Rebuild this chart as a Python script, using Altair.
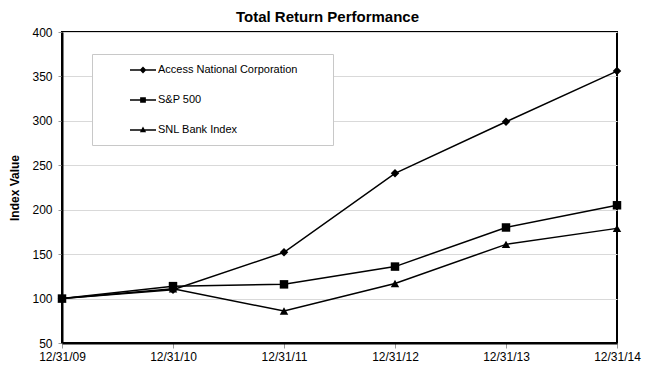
import altair as alt
import pandas as pd

dates = ["12/31/09", "12/31/10", "12/31/11", "12/31/12", "12/31/13", "12/31/14"]
series = ["Access National Corporation", "S&P 500", "SNL Bank Index"]
access = [100, 110, 152, 241, 299, 356]
sp500 = [100, 114, 116, 136, 180, 205]
snl = [100, 111, 86, 117, 161, 179]
y_ticks = [50, 100, 150, 200, 250, 300, 350, 400]

rows = []
for name, vals in zip(series, [access, sp500, snl]):
    for d, v in zip(dates, vals):
        rows.append({"date": d, "series": name, "value": v})
df = pd.DataFrame(rows)

font = "Liberation Sans"

x = alt.X("date:N", sort=dates, title=None,
          scale=alt.Scale(type="point", padding=0),
          axis=alt.Axis(labelAngle=0, domainColor="black", domainWidth=2,
                        tickColor="#999999", tickSize=5, labelPadding=3,
                        labelFont=font, labelFontSize=12, labelColor="black"))
y = alt.Y("value:Q", title="Index Value",
          scale=alt.Scale(domain=[50, 400], nice=False, zero=False),
          axis=alt.Axis(values=y_ticks, grid=True, gridColor="#d9d9d9",
                        domainColor="black", domainWidth=2,
                        tickColor="#999999", tickSize=4, labelPadding=6,
                        labelFont=font, labelFontSize=12, labelColor="black",
                        titleFont=font, titleFontSize=12, titleFontWeight="bold",
                        titleColor="black", titlePadding=10))

lines = alt.Chart(df).mark_line(color="black", strokeWidth=1.5).encode(
    x=x, y=y, detail="series:N")

points = alt.Chart(df).mark_point(filled=True, color="black", opacity=1, size=72).encode(
    x=x, y=y,
    shape=alt.Shape("series:N", legend=None,
                    scale=alt.Scale(domain=series, range=["diamond", "square", "triangle-up"])))

frame = "M-1,-1L-1,-1M-1,0.7L-1,0.7M-1,-0.055H1V0.055H-1Z"
legend_paths = [
    frame + "M0,-0.26L0.26,0L0,0.26L-0.26,0Z",
    frame + "M-0.22,-0.22L0.22,-0.22L0.22,0.22L-0.22,0.22Z",
    frame + "M0,-0.26L0.24,0.18L-0.24,0.18Z",
]

legend_layer = alt.Chart(df).transform_calculate(series2="datum.series").transform_filter("false").mark_point(
    filled=True, color="black", opacity=1
).encode(
    x=x, y=y,
    shape=alt.Shape("series2:N",
                    scale=alt.Scale(domain=series, range=legend_paths),
                    legend=alt.Legend(orient="none", legendX=30, legendY=22,
                                      title="MMMr", titleOrient="right", titleColor="white",
                                      titleFontSize=11, titlePadding=2, titleFont=font,
                                      padding=2, fillColor="white", strokeColor="#c8c8c8",
                                      symbolSize=676, symbolOffset=35, labelOffset=1,
                                      rowPadding=1, symbolFillColor="black",
                                      symbolOpacity=1,
                                      labelFont=font, labelFontSize=11, labelColor="black",
                                      labelLimit=400))
)

chart = alt.layer(lines, points, legend_layer).resolve_scale(shape="independent").properties(
    width=555, height=311,
    title=alt.Title("Total Return Performance", font=font, fontSize=15, fontWeight="bold",
                    color="black", anchor="middle", dx=-12, offset=1),
    autosize=alt.AutoSizeParams(type="none"),
    padding={"left": 54, "top": 24, "right": 25, "bottom": 26},
).configure_view(stroke="black", strokeWidth=2)

chart.save("out.html", embed_options={"renderer": "svg", "actions": False})
